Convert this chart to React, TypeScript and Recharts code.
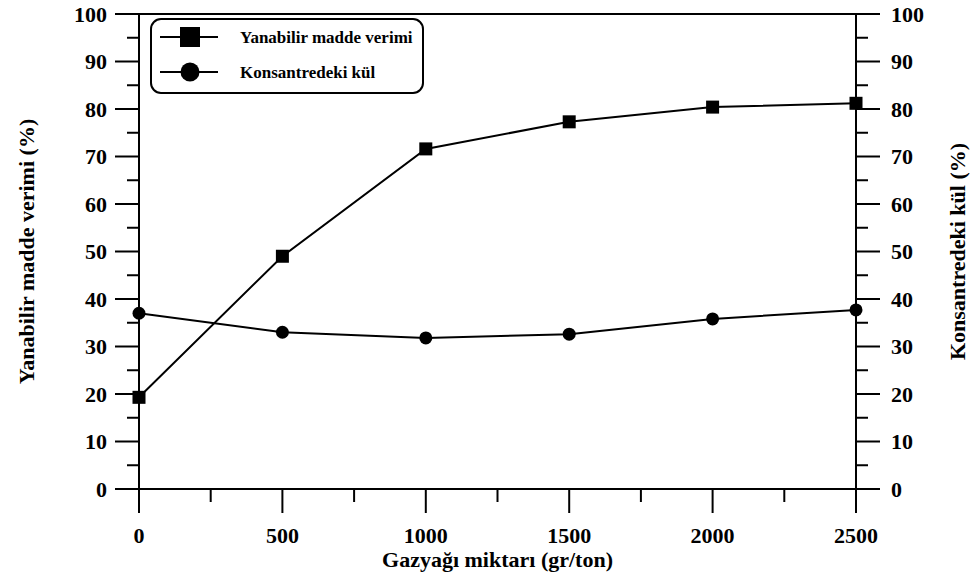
import { LineChart, Line, XAxis, YAxis, Legend, ReferenceLine, Label } from 'recharts';

// Gazyağı miktarı (gr/ton)
const gazyagi = [0, 500, 1000, 1500, 2000, 2500];
// Yanabilir madde verimi (%)
const yanabilir = [19.3, 49.0, 71.6, 77.3, 80.4, 81.2];
// Konsantredeki kül (%)
const kul = [37.0, 33.0, 31.8, 32.6, 35.8, 37.7];

const xTicks = [0, 250, 500, 750, 1000, 1250, 1500, 1750, 2000, 2250, 2500];
const yTicks = [0, 5, 10, 15, 20, 25, 30, 35, 40, 45, 50, 55, 60, 65, 70, 75, 80, 85, 90, 95, 100];

const legendOrder = ['yanabilir', 'kul'];

const data = gazyagi.map((g, i) => ({ g, yanabilir: yanabilir[i], kul: kul[i] }));

const FONT = '"Liberation Serif", "Times New Roman", serif';

const textStyle = { fontFamily: FONT, fontWeight: 700, fill: '#000' };

const YTick = (props: any) => {
    const { x, y, payload, side } = props;
    const major = payload.value % 10 === 0;
    const dir = side === 'left' ? -1 : 1;
    const len = major ? 24 : 12;
    return (
        <g>
            <line x1={x} y1={y} x2={x + dir * len} y2={y} stroke="#000" strokeWidth={2} />
            {major && (
                <text
                    x={side === 'left' ? x - 32 : x + 35}
                    y={y}
                    textAnchor={side === 'left' ? 'end' : 'start'}
                    dominantBaseline="central"
                    fontSize={22}
                    style={textStyle}
                >
                    {payload.value}
                </text>
            )}
        </g>
    );
};

const XTick = (props: any) => {
    const { x, y, payload } = props;
    const major = payload.value % 500 === 0;
    return (
        <g>
            <line x1={x} y1={y} x2={x} y2={y + (major ? 24 : 13)} stroke="#000" strokeWidth={2} />
            {major && (
                <text x={x} y={y + 54} textAnchor="middle" fontSize={22} style={textStyle}>
                    {payload.value}
                </text>
            )}
        </g>
    );
};

const squareDot = (p: any) => (
    <rect key={`sq-${p.index}`} x={p.cx - 6.5} y={p.cy - 6.5} width={13} height={13} fill="#000" />
);

const circleDot = (p: any) => (
    <circle key={`ci-${p.index}`} cx={p.cx} cy={p.cy} r={6.5} fill="#000" />
);

const LegendBox = (props: any) => {
    const items = [...(props.payload || [])].sort(
        (a: any, b: any) => legendOrder.indexOf(a.dataKey) - legendOrder.indexOf(b.dataKey)
    );
    return (
        <svg width={274} height={76} style={{ display: 'block' }}>
            <rect x={1} y={1} width={272} height={74} rx={10} fill="#fff" stroke="#000" strokeWidth={2} />
            {items.map((item: any, i: number) => {
                const cy = 19 + i * 35;
                return (
                    <g key={item.value}>
                        <line x1={10} y1={cy} x2={68} y2={cy} stroke="#000" strokeWidth={2} />
                        {item.dataKey === 'yanabilir' ? (
                            <rect x={30} y={cy - 10} width={20} height={20} fill="#000" />
                        ) : (
                            <circle cx={40} cy={cy} r={9.5} fill="#000" />
                        )}
                        <text x={90} y={cy} dominantBaseline="central" fontSize={17} style={textStyle}>
                            {item.value}
                        </text>
                    </g>
                );
            })}
        </svg>
    );
};

export default function App() {
    return (
        <div style={{ position: 'absolute', left: 0, top: 0, width: 975, height: 582, background: '#fff' }}>
            <LineChart width={975} height={582} data={data} margin={{ top: 14, right: 19, bottom: 33, left: 39 }}>
                <XAxis
                    dataKey="g"
                    type="number"
                    domain={[0, 2500]}
                    ticks={xTicks}
                    interval={0}
                    height={60}
                    tickSize={0}
                    tickMargin={0}
                    tickLine={false}
                    axisLine={{ stroke: '#000', strokeWidth: 2 }}
                    tick={(p: any) => <XTick {...p} />}
                >
                    <Label
                        content={(lp: any) => {
                            const vb = lp.viewBox;
                            return (
                                <text x={vb.x + vb.width / 2} y={567} textAnchor="middle" fontSize={22} style={textStyle}>
                                    Gazyağı miktarı (gr/ton)
                                </text>
                            );
                        }}
                    />
                </XAxis>
                <YAxis
                    yAxisId="left"
                    orientation="left"
                    domain={[0, 100]}
                    ticks={yTicks}
                    interval={0}
                    width={100}
                    tickSize={0}
                    tickMargin={0}
                    tickLine={false}
                    axisLine={{ stroke: '#000', strokeWidth: 2 }}
                    tick={(p: any) => <YTick {...p} side="left" />}
                >
                    <Label
                        content={(lp: any) => {
                            const vb = lp.viewBox;
                            const cx = 26;
                            const cy = vb.y + vb.height / 2;
                            return (
                                <text
                                    x={cx}
                                    y={cy}
                                    transform={`rotate(-90 ${cx} ${cy})`}
                                    textAnchor="middle"
                                    dominantBaseline="central"
                                    fontSize={22}
                                    style={textStyle}
                                >
                                    Yanabilir madde verimi (%)
                                </text>
                            );
                        }}
                    />
                </YAxis>
                <YAxis
                    yAxisId="right"
                    orientation="right"
                    domain={[0, 100]}
                    ticks={yTicks}
                    interval={0}
                    width={100}
                    tickSize={0}
                    tickMargin={0}
                    tickLine={false}
                    axisLine={{ stroke: '#000', strokeWidth: 2 }}
                    tick={(p: any) => <YTick {...p} side="right" />}
                >
                    <Label
                        content={(lp: any) => {
                            const vb = lp.viewBox;
                            const cx = 957;
                            const cy = vb.y + vb.height / 2;
                            return (
                                <text
                                    x={cx}
                                    y={cy}
                                    transform={`rotate(-90 ${cx} ${cy})`}
                                    textAnchor="middle"
                                    dominantBaseline="central"
                                    fontSize={22}
                                    style={textStyle}
                                >
                                    Konsantredeki kül (%)
                                </text>
                            );
                        }}
                    />
                </YAxis>
                <ReferenceLine yAxisId="left" y={100} stroke="#000" strokeWidth={2} />
                <Legend
                    layout="horizontal"
                    verticalAlign="middle"
                    align="center"
                    wrapperStyle={{ left: 150, top: 18, width: 274, height: 76 }}
                    content={(lp: any) => <LegendBox {...lp} />}
                />
                <Line
                    yAxisId="left"
                    type="linear"
                    dataKey="yanabilir"
                    name="Yanabilir madde verimi"
                    stroke="#000"
                    strokeWidth={2}
                    dot={squareDot}
                    isAnimationActive={false}
                />
                <Line
                    yAxisId="right"
                    type="linear"
                    dataKey="kul"
                    name="Konsantredeki kül"
                    stroke="#000"
                    strokeWidth={2}
                    dot={circleDot}
                    isAnimationActive={false}
                />
            </LineChart>
        </div>
    );
}
